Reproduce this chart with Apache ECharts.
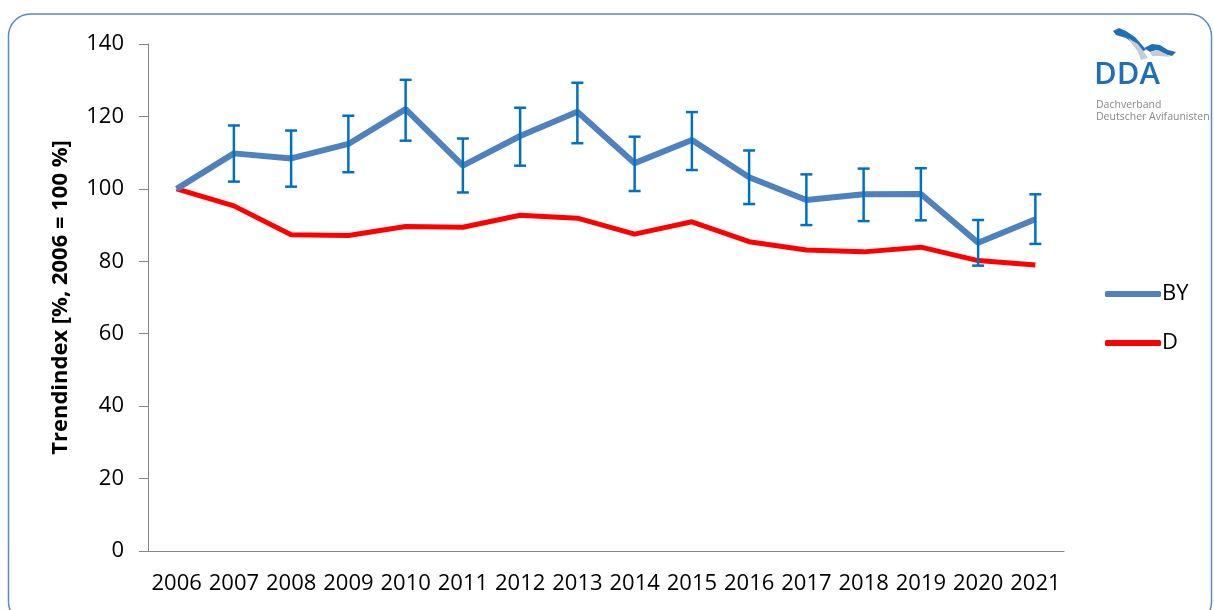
<!DOCTYPE html>
<html>
<head>
<meta charset="utf-8">
<script src="https://cdn.jsdelivr.net/npm/echarts@6/dist/echarts.min.js"></script>
<style>
  html, body { margin: 0; padding: 0; background: #fff; }
  #chart { width: 1214px; height: 610px; }
</style>
</head>
<body>
<div id="chart"></div>
<script>
// Jahre
var years = ["2006", "2007", "2008", "2009", "2010", "2011", "2012", "2013",
  "2014", "2015", "2016", "2017", "2018", "2019", "2020", "2021"];
// Bayern
var byValues = [100, 109.8, 108.4, 112.4, 122.0, 106.4, 114.6, 121.3,
  107.1, 113.5, 103.2, 96.9, 98.5, 98.6, 85.1, 91.6];
var byUpper = [100, 117.5, 116.1, 120.2, 130.1, 113.9, 122.4, 129.3,
  114.4, 121.2, 110.6, 104.0, 105.6, 105.7, 91.4, 98.5];
var byLower = [100, 102.0, 100.6, 104.6, 113.3, 99.0, 106.4, 112.6,
  99.4, 105.2, 95.8, 90.0, 91.1, 91.3, 78.8, 84.8];
// Deutschland
var dValues = [100, 95.3, 87.3, 87.1, 89.6, 89.4, 92.7, 91.9,
  87.5, 90.9, 85.4, 83.1, 82.6, 83.9, 80.2, 79.0];
var yTicks = [0, 20, 40, 60, 80, 100, 120, 140];

var font = "'Open Sans', 'Liberation Sans', sans-serif";

// Fehlerbalken (ohne 2006)
var errData = [];
for (var i = 1; i < years.length; i++) {
  errData.push([i, byLower[i], byUpper[i]]);
}

var chart = echarts.init(document.getElementById("chart"));

var option = {
  backgroundColor: "#fff",
  animation: false,
  grid: { left: 148, right: 150, top: 44, bottom: 59 },
  legend: {
    data: ["BY", "D"],
    orient: "vertical",
    left: 1100,
    top: 278,
    itemWidth: 56,
    itemHeight: 6,
    itemGap: 27,
    icon: "roundRect",
    textStyle: { fontFamily: font, fontSize: 22, color: "#000", padding: [0, 0, 0, -4] }
  },
  xAxis: {
    type: "category",
    data: years,
    boundaryGap: true,
    axisLine: { lineStyle: { color: "#868686", width: 1 } },
    axisTick: { length: 7, interval: 0, lineStyle: { color: "#868686" } },
    axisLabel: { interval: 0, margin: 22, fontFamily: font, fontSize: 22, color: "#000" }
  },
  yAxis: {
    type: "value",
    min: yTicks[0],
    max: yTicks[yTicks.length - 1],
    interval: 20,
    splitLine: { show: false },
    axisLine: { show: true, lineStyle: { color: "#868686", width: 1 } },
    axisTick: { show: true, length: 9, lineStyle: { color: "#868686" } },
    axisLabel: { margin: 24, fontFamily: font, fontSize: 22, color: "#000" },
    name: "Trendindex [%, 2006 = 100 %]",
    nameLocation: "middle",
    nameGap: 76,
    nameTextStyle: { fontFamily: font, fontSize: 22, fontWeight: "bold", color: "#000" }
  },
  series: [
    {
      name: "D",
      type: "line",
      data: dValues,
      symbol: "none",
      z: 2,
      color: "#ff0000",
      lineStyle: { color: "#ff0000", width: 5 }
    },
    {
      name: "BY",
      type: "line",
      data: byValues,
      symbol: "none",
      z: 3,
      color: "#4f81bd",
      lineStyle: { color: "#4f81bd", width: 6 }
    },
    {
      name: "Fehler",
      type: "custom",
      z: 4,
      data: errData,
      renderItem: function (params, api) {
        var x = api.value(0);
        var lo = api.coord([x, api.value(1)]);
        var hi = api.coord([x, api.value(2)]);
        var w = 6;
        var st = { stroke: "#0070c0", lineWidth: 2.5 };
        return {
          type: "group",
          children: [
            { type: "line", shape: { x1: lo[0], y1: lo[1], x2: hi[0], y2: hi[1] }, style: st },
            { type: "line", shape: { x1: lo[0] - w, y1: lo[1], x2: lo[0] + w, y2: lo[1] }, style: st },
            { type: "line", shape: { x1: hi[0] - w, y1: hi[1], x2: hi[0] + w, y2: hi[1] }, style: st }
          ]
        };
      }
    }
  ],
  graphic: [
    // Rahmen
    {
      type: "rect",
      shape: { x: 8.5, y: 14, width: 1203, height: 610, r: 22 },
      style: { fill: "none", stroke: "#5b88c6", lineWidth: 1.5 },
      silent: true
    },
    // Logo DDA (Vogel vereinfacht)
    {
      type: "polygon",
      shape: { points: [[1113, 31], [1119, 28], [1126, 31], [1135, 37], [1142, 45], [1146, 50], [1140, 52], [1134, 44], [1126, 38], [1116, 35]] },
      style: { fill: "#1f6fb5" },
      silent: true
    },
    {
      type: "polygon",
      shape: { points: [[1144, 48], [1152, 44], [1160, 45], [1168, 50], [1176, 52], [1172, 56], [1164, 54], [1156, 50], [1150, 52]] },
      style: { fill: "#1f6fb5" },
      silent: true
    },
    {
      type: "polygon",
      shape: { points: [[1128, 38], [1138, 44], [1144, 52], [1148, 58], [1141, 60], [1138, 52], [1132, 44]] },
      style: { fill: "#c4ccd6" },
      silent: true
    },
    {
      type: "polygon",
      shape: { points: [[1150, 52], [1158, 50], [1166, 54], [1170, 57], [1160, 56], [1152, 56]] },
      style: { fill: "#c4ccd6" },
      silent: true
    },
    {
      type: "text",
      style: { text: "DDA", x: 1094, y: 60, font: "600 31px 'Open Sans', sans-serif", fill: "#1f6fb5" },
      silent: true
    },
    {
      type: "text",
      style: { text: "Dachverband", x: 1096, y: 100, font: "10.5px 'Open Sans', sans-serif", fill: "#888" },
      silent: true
    },
    {
      type: "text",
      style: { text: "Deutscher Avifaunisten", x: 1096, y: 112, font: "10.5px 'Open Sans', sans-serif", fill: "#888" },
      silent: true
    }
  ]
};

chart.setOption(option);
</script>
</body>
</html>
